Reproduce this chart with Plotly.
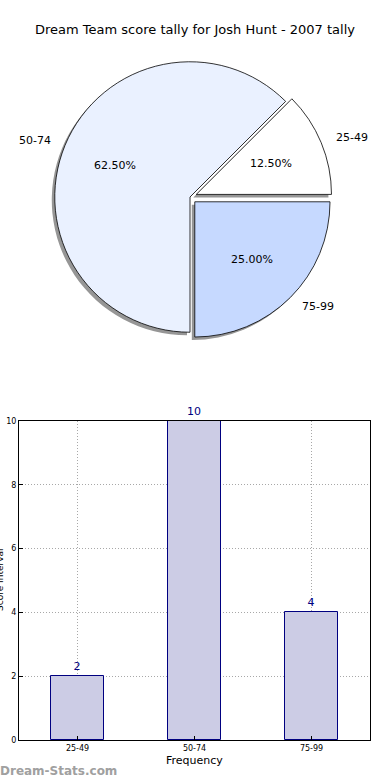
import math
import plotly.graph_objects as go

# ---- data ----
categories = ["25-49", "50-74", "75-99"]
counts = [2, 10, 4]
pulls = [0.05, 0.0, 0.05]
pie_colors = ["#FFFFFF", "#EAF1FF", "#C6D9FF"]
y_ticks = [0, 2, 4, 6, 8, 10]

W, H = 390, 780
FONT = "DejaVu Sans"

# pie geometry (pixels)
cx, cy = 190, 197
half = 142
maxpull = max(pulls)
r = half / (1 + maxpull)
total = sum(counts)
# plotly ccw: rotation marks the ccw end of the first slice; first slice starts at 3 o'clock
rot = 90 - 360 * counts[0] / total


def px_x(x):
    return x / W


def px_y(y):
    return 1 - y / H


fig = go.Figure()

# shadow pie
sh = 3
fig.add_trace(go.Pie(
    labels=categories, values=counts, sort=False, direction="counterclockwise",
    rotation=rot, pull=pulls, textinfo="none", hoverinfo="skip", showlegend=False,
    marker=dict(colors=["rgb(150,150,150)"] * 3, line=dict(width=0)),
    domain=dict(x=[px_x(cx - half - sh), px_x(cx + half - sh)],
                y=[px_y(cy + half + sh), px_y(cy - half + sh)]),
))

fig.add_trace(go.Pie(
    labels=categories, values=counts, sort=False, direction="counterclockwise",
    rotation=rot, pull=pulls, textinfo="none", showlegend=False,
    marker=dict(colors=pie_colors, line=dict(color="black", width=0.8)),
    domain=dict(x=[px_x(cx - half), px_x(cx + half)],
                y=[px_y(cy + half), px_y(cy - half)]),
))

# labels and percentages for pie
start = 0.0
annotations = []
for lab, v, p in zip(categories, counts, pulls):
    frac = v / total
    mid = (start + frac / 2) * 2 * math.pi
    start += frac
    ox = p * r * math.cos(mid)
    oy = p * r * math.sin(mid)
    lx = cx + ox + 1.1 * r * math.cos(mid)
    ly = cy - oy - 1.1 * r * math.sin(mid)
    annotations.append(dict(
        x=px_x(lx), y=px_y(ly), xref="paper", yref="paper", text=lab, showarrow=False,
        xanchor="left" if math.cos(mid) > 0 else "right", yanchor="middle",
        font=dict(family=FONT, size=11, color="black")))
    tx = cx + ox + 0.6 * r * math.cos(mid)
    ty = cy - oy - 0.6 * r * math.sin(mid)
    annotations.append(dict(
        x=px_x(tx), y=px_y(ty), xref="paper", yref="paper", text=f"{frac*100:.2f}%",
        showarrow=False, xanchor="center", yanchor="middle",
        font=dict(family=FONT, size=11, color="black")))

# bar chart
fig.add_trace(go.Bar(
    x=categories, y=counts, width=0.45, showlegend=False,
    marker=dict(color="#CCCCE5", line=dict(color="#000080", width=1)),
    text=[str(c) for c in counts], textposition="outside", cliponaxis=False,
    textfont=dict(family=FONT, size=11, color="#000080"),
    xaxis="x", yaxis="y",
))

annotations += [
    dict(x=0.5, y=px_y(30), xref="paper", yref="paper", text="Dream Team score tally for Josh Hunt - 2007 tally",
         showarrow=False, font=dict(family=FONT, size=13, color="black"), xanchor="center", yanchor="middle"),
    dict(x=px_x(194), y=px_y(760), xref="paper", yref="paper", text="Frequency", showarrow=False,
         font=dict(family=FONT, size=11, color="black"), xanchor="center", yanchor="middle"),
    dict(x=px_x(0), y=px_y(580), xref="paper", yref="paper", text="Score Interval", showarrow=False,
         textangle=-90, font=dict(family=FONT, size=9, color="black"), xanchor="center", yanchor="middle"),
    dict(x=px_x(-2), y=px_y(771), xref="paper", yref="paper", text="<b>Dream-Stats.com</b>", showarrow=False,
         font=dict(family=FONT, size=12, color="#A0A0A0"), xanchor="left", yanchor="middle"),
]

grid = dict(showgrid=True, gridcolor="#A8A8A8", griddash="1px,2px", gridwidth=1)

fig.update_layout(
    width=W, height=H, margin=dict(l=0, r=0, t=0, b=0, autoexpand=False),
    paper_bgcolor="white", plot_bgcolor="white",
    font=dict(family=FONT, size=9, color="black"),
    annotations=annotations,
    bargap=0,
    xaxis=dict(domain=[px_x(19), px_x(370)], range=[-0.5, 2.5], showline=True, linecolor="black",
               linewidth=1, mirror=True, ticks="inside", ticklen=4, tickcolor="black", automargin=False,
               tickfont=dict(family=FONT, size=8), anchor="y", fixedrange=True, **grid),
    yaxis=dict(domain=[px_y(740), px_y(421)], range=[0, 10], tickvals=y_ticks, showline=True,
               linecolor="black", linewidth=1, mirror=True, ticks="inside", ticklen=4, tickcolor="black",
               zeroline=False, automargin=False, tickfont=dict(family=FONT, size=8), anchor="x",
               fixedrange=True, **grid),
)

fig.write_html("out.html", config={"displayModeBar": False},
               post_script="document.body.style.margin='0';document.body.style.padding='0';")
